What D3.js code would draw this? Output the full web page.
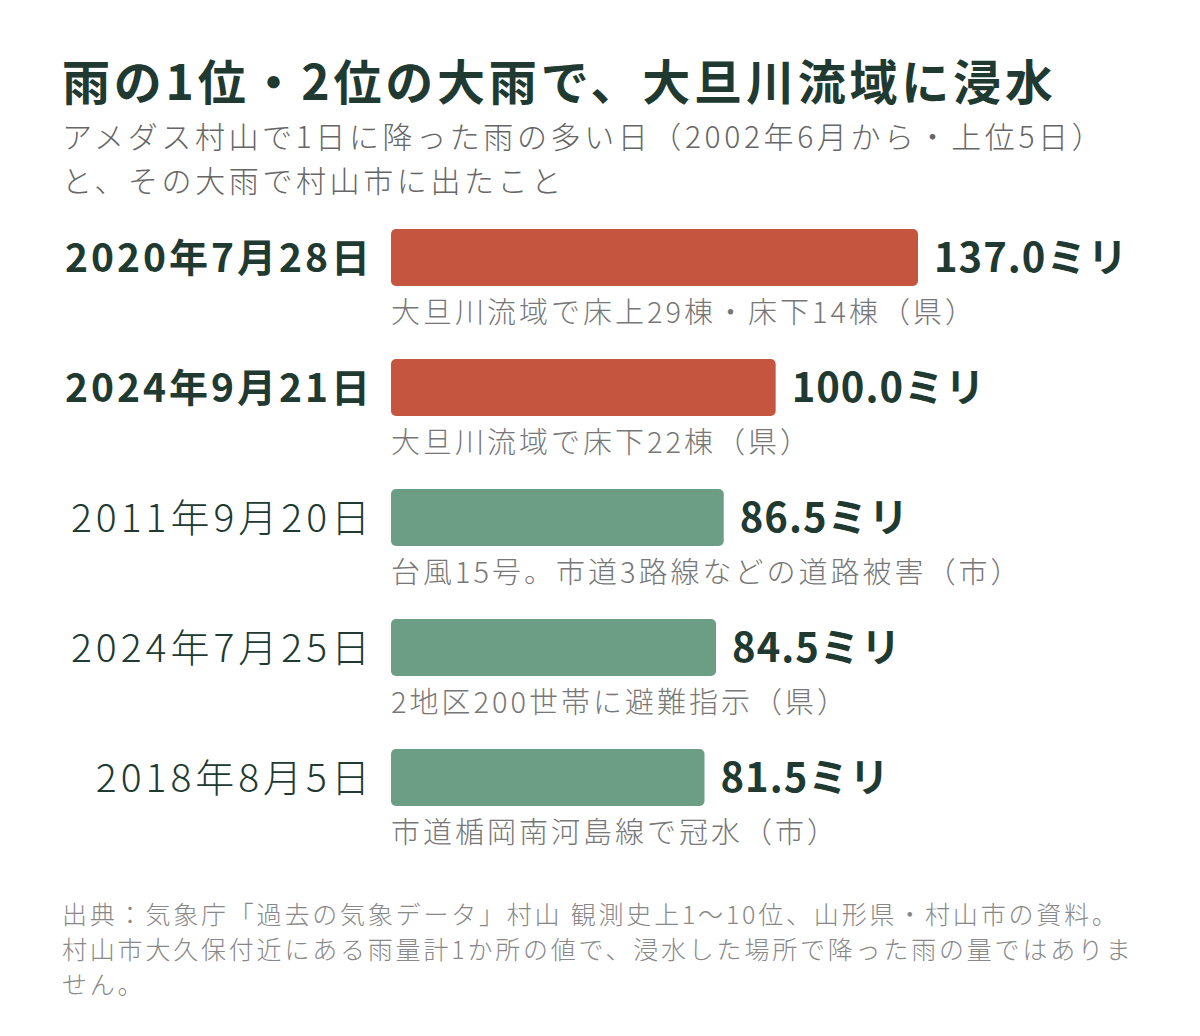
<!DOCTYPE html>
<html>
<head>
<meta charset="utf-8">
<script src="https://cdn.jsdelivr.net/npm/d3@7"></script>
<style>
  body { margin: 0; background: #fff; }
  svg text { font-family: "Noto Sans CJK JP", "Noto Sans", sans-serif; }
</style>
</head>
<body>
<div id="chart"></div>
<script>
// data
const dates = ["2020年7月28日", "2024年9月21日", "2011年9月20日", "2024年7月25日", "2018年8月5日"];
const rain = [137.0, 100.0, 86.5, 84.5, 81.5];
const notes = [
  "大旦川流域で床上29棟・床下14棟（県）",
  "大旦川流域で床下22棟（県）",
  "台風15号。市道3路線などの道路被害（市）",
  "2地区200世帯に避難指示（県）",
  "市道楯岡南河島線で冠水（市）"
];
const flooded = [true, true, false, false, false];

const title = "雨の1位・2位の大雨で、大旦川流域に浸水";
const subtitle = ["アメダス村山で1日に降った雨の多い日（2002年6月から・上位5日）", "と、その大雨で村山市に出たこと"];
const source = [
  "出典：気象庁「過去の気象データ」村山 観測史上1～10位、山形県・村山市の資料。",
  "村山市大久保付近にある雨量計1か所の値で、浸水した場所で降った雨の量ではありま",
  "せん。"
];

const W = 1200, H = 1036;
const dark = "#213a31";

const data = dates.map((d, i) => ({ date: d, value: rain[i], note: notes[i], top: flooded[i] }));

const svg = d3.select("#chart")
    .append("svg")
    .attr("width", W)
    .attr("height", H);

svg.append("text")
    .attr("x", 62)
    .attr("y", 100)
    .attr("font-size", 48)
    .attr("font-weight", 700)
    .attr("letter-spacing", 3.8)
    .attr("fill", dark)
    .text(title);

svg.selectAll(".sub")
    .data(subtitle)
    .enter()
    .append("text")
    .attr("class", "sub")
    .attr("x", 62)
    .attr("y", (d, i) => 148 + i * 44)
    .attr("font-size", 30)
    .attr("font-weight", 300)
    .attr("letter-spacing", 3.6)
    .attr("fill", "#666")
    .text(d => d);

const x = d3.scaleLinear()
    .domain([0, 137])
    .range([391, 918]);

const y = d3.scaleBand()
    .domain(dates)
    .range([229, 806])
    .paddingInner(0.5615)
    .paddingOuter(0);

const rows = svg.selectAll(".row")
    .data(data)
    .enter()
    .append("g")
    .attr("class", "row");

rows.append("rect")
    .attr("x", x(0))
    .attr("y", d => y(d.date))
    .attr("width", d => x(d.value) - x(0))
    .attr("height", y.bandwidth())
    .attr("rx", 5)
    .attr("fill", d => d.top ? "#c5553e" : "#6b9e85");

// date labels on the left
rows.append("text")
    .attr("x", d => d.top ? 373 : 374)
    .attr("y", d => y(d.date) + y.bandwidth() / 2)
    .attr("dy", "0.36em")
    .attr("text-anchor", "end")
    .attr("font-size", 39)
    .attr("font-weight", d => d.top ? 700 : 300)
    .attr("letter-spacing", d => d.top ? 3 : 4)
    .attr("fill", dark)
    .text(d => d.date);

// values at bar end
rows.append("text")
    .attr("x", d => x(d.value) + 16)
    .attr("y", d => y(d.date) + y.bandwidth() / 2)
    .attr("dy", "0.36em")
    .attr("font-size", 40)
    .attr("font-weight", 700)
    .attr("letter-spacing", 1)
    .attr("fill", dark)
    .text(d => d3.format(".1f")(d.value) + "ミリ");

// what happened
rows.append("text")
    .attr("x", x(0))
    .attr("y", d => y(d.date) + y.bandwidth() + 37)
    .attr("font-size", 29)
    .attr("font-weight", 300)
    .attr("letter-spacing", 3)
    .attr("fill", "#777")
    .text(d => d.note);

svg.selectAll(".src")
    .data(source)
    .enter()
    .append("text")
    .attr("class", "src")
    .attr("x", 62)
    .attr("y", (d, i) => 924 + i * 35)
    .attr("font-size", 25)
    .attr("font-weight", 300)
    .attr("letter-spacing", 2.8)
    .attr("fill", "#888")
    .text(d => d);
</script>
</body>
</html>
